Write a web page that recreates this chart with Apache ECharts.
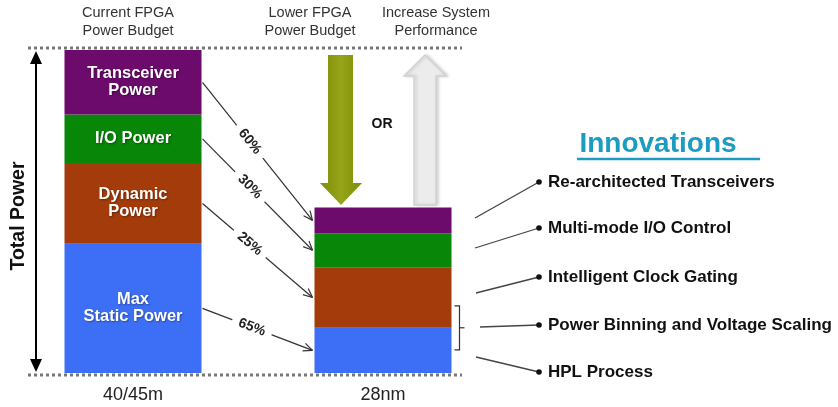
<!DOCTYPE html>
<html><head><meta charset="utf-8">
<script src="https://cdn.jsdelivr.net/npm/echarts@6/dist/echarts.min.js"></script>
<style>html,body{margin:0;padding:0;background:#fff}#c{width:838px;height:407px}</style>
</head><body><div id="c"></div>
<script>
// Categories (process nodes)
const categories = ['40/45m', '28nm'];
// Share of total power (% of 40/45nm budget)
const staticPower = [40, 14];
const dynamicPower = [25, 18.75];
const ioPower = [15, 10.5];
const transceiverPower = [20, 8];
const segmentLabels = ['Max\nStatic Power', 'Dynamic\nPower', 'I/O Power', 'Transceiver\nPower'];
const segmentColors = ['#3d6ff6', '#a33b0a', '#078607', '#6c0b6c'];
const columnTitles = ['Current FPGA\nPower Budget', 'Lower FPGA\nPower Budget', 'Increase System\nPerformance'];
const innovations = ['Re-architected Transceivers', 'Multi-mode I/O Control', 'Intelligent Clock Gating', 'Power Binning and Voltage Scaling', 'HPL Process'];

const FONT = '"Liberation Sans", Arial, sans-serif';
const seriesVals = [staticPower, dynamicPower, ioPower, transceiverPower];
const BW = 137;

const chart = echarts.init(document.getElementById('c'), null, {renderer: 'canvas'});
chart.setOption({
  animation: false,
  backgroundColor: '#fff',
  grid: {left: 8, width: 500, top: 50, height: 323},
  xAxis: {
    type: 'category', data: categories,
    axisLine: {show: false}, axisTick: {show: false},
    axisLabel: {fontSize: 18, color: '#222', margin: 13, fontFamily: FONT}
  },
  yAxis: {type: 'value', min: 0, max: 100, show: false, splitLine: {show: false}},
  series: seriesVals.map((vals, k) => ({
    type: 'bar', stack: 'p', barWidth: BW,
    itemStyle: {color: segmentColors[k]},
    data: vals.map((v, i) => i === 0 ? {value: v, label: {show: true}} : v),
    label: {
      show: false, position: 'inside', color: '#fff', fontWeight: 'bold',
      fontSize: 16.5, lineHeight: 17, fontFamily: FONT,
      textShadowColor: 'rgba(0,0,0,0.35)', textShadowBlur: 2, textShadowOffsetX: 1, textShadowOffsetY: 1,
      formatter: () => segmentLabels[k]
    }
  }))
});

function px(ci, v) { return chart.convertToPixel({xAxisIndex: 0, yAxisIndex: 0}, [ci, v]); }
function txt(x, y, text, font, fill, align, extra, lh) {
  return Object.assign({type: 'text', x: x, y: y, z: 20,
    style: {text: text, font: font, fill: fill, textAlign: align || 'center', align: align || 'center',
      textVerticalAlign: 'middle', verticalAlign: 'middle', lineHeight: lh || 18}}, extra || {});
}
function line(x1, y1, x2, y2, stroke, w, dash) {
  return {type: 'line', z: 10, shape: {x1, y1, x2, y2}, style: {stroke: stroke, lineWidth: w, lineDash: dash || null}};
}

const g = [];
const pTop = px(0, 100), pBase = px(0, 0);
const c0 = pTop[0], c1 = px(1, 0)[0];
// dotted reference lines
g.push(line(28, pTop[1] - 2, 462, pTop[1] - 2, '#777', 3, [3, 3]));
g.push(line(28, pBase[1] + 2, 462, pBase[1] + 2, '#777', 3, [3, 3]));
// column titles
g.push(txt(c0 - 5, 22, columnTitles[0], '14.5px ' + FONT, '#333'));
g.push(txt(310, 22, columnTitles[1], '14.5px ' + FONT, '#333'));
g.push(txt(436, 22, columnTitles[2], '14.5px ' + FONT, '#333'));
// Total power double arrow
g.push(line(36, 62, 36, 362, '#000', 2));
g.push({type: 'polygon', z: 10, shape: {points: [[36, 51], [30, 64], [42, 64]]}, style: {fill: '#000'}});
g.push({type: 'polygon', z: 10, shape: {points: [[36, 372], [30, 359], [42, 359]]}, style: {fill: '#000'}});
g.push(txt(19, 216, 'Total Power', 'bold 19.5px ' + FONT, '#111', 'center', {rotation: Math.PI / 2}));
// big arrows
g.push({type: 'polygon', z: 10, shape: {points: [[328, 55], [353, 55], [353, 183], [362, 183], [341, 205], [320, 183], [328, 183]]},
  style: {fill: new echarts.graphic.LinearGradient(0, 0, 1, 0, [{offset: 0, color: '#7f8d08'}, {offset: 0.5, color: '#95a418'}, {offset: 1, color: '#7f8d08'}])}});
g.push({type: 'polygon', z: 10, shape: {points: [[425, 55], [446, 76], [436, 76], [436, 205], [414, 205], [414, 76], [404, 76]]},
  style: {fill: '#ececec', stroke: '#d2d2d2', lineWidth: 1.5, shadowBlur: 3, shadowColor: 'rgba(0,0,0,0.15)', shadowOffsetX: 2}});
g.push(txt(382, 124, 'OR', 'bold 14px ' + FONT, '#111'));

// connectors from bar 1 to bar 2 segments
let cum0 = 0, cum1 = 0;
const mids = [];
for (let k = 0; k < 4; k++) {
  const a = seriesVals[k][0], b = seriesVals[k][1];
  const y0 = px(0, cum0 + a / 2)[1], y1 = px(1, cum1 + b / 2)[1];
  mids.push([y0, y1, px(1, cum1)[1], px(1, cum1 + b)[1]]);
  cum0 += a; cum1 += b;
  const xs = c0 + BW / 2 + 1, xe = c1 - BW / 2 - 2;
  g.push(line(xs, y0, xe, y1, '#333', 1.2));
  const ang = Math.atan2(y1 - y0, xe - xs);
  const hl = 10, ha = 0.42;
  g.push(line(xe, y1, xe - hl * Math.cos(ang - ha), y1 - hl * Math.sin(ang - ha), '#333', 1.2));
  g.push(line(xe, y1, xe - hl * Math.cos(ang + ha), y1 - hl * Math.sin(ang + ha), '#333', 1.2));
  const t = k === 0 ? 0.45 : 0.43;
  const pct = Math.round((1 - b / a) * 100) + '%';
  g.push({type: 'text', z: 30, x: xs + t * (xe - xs), y: y0 + t * (y1 - y0), rotation: -ang,
    style: {text: pct, font: 'bold 14px ' + FONT, fill: '#222', textAlign: 'center', align: 'center',
      textVerticalAlign: 'middle', verticalAlign: 'middle', backgroundColor: '#fff', padding: [1, 7]}});
}
// bracket around dynamic/static boundary on bar 2
const bx = c1 + BW / 2 + 8, by = mids[0][3];
g.push({type: 'polyline', z: 10, shape: {points: [[bx - 5, by - 22], [bx, by - 22], [bx, by + 22], [bx - 5, by + 22]]}, style: {stroke: '#333', lineWidth: 1.2, fill: null}});
g.push(line(bx, by, bx + 5, by, '#333', 1.2));

// Innovations
g.push(txt(658, 144, 'Innovations', 'bold 28px ' + FONT, '#1c9cc2'));
g.push(line(577, 159, 760, 159, '#1c9cc2', 2.5));
const innovY = [182, 228, 277, 325, 372];
const innovStart = [[475, 218], [475, 248], [476, 293], [480, 327], [476, 357]];
innovations.forEach((s, i) => {
  g.push(line(innovStart[i][0], innovStart[i][1], 539, innovY[i], '#444', 1.3));
  g.push({type: 'circle', z: 12, shape: {cx: 539, cy: innovY[i], r: 2.8}, style: {fill: '#111'}});
  g.push(txt(548, innovY[i], s, 'bold 17px ' + FONT, '#111', 'left'));
});

chart.setOption({graphic: {elements: g}});
</script>
</body></html>
